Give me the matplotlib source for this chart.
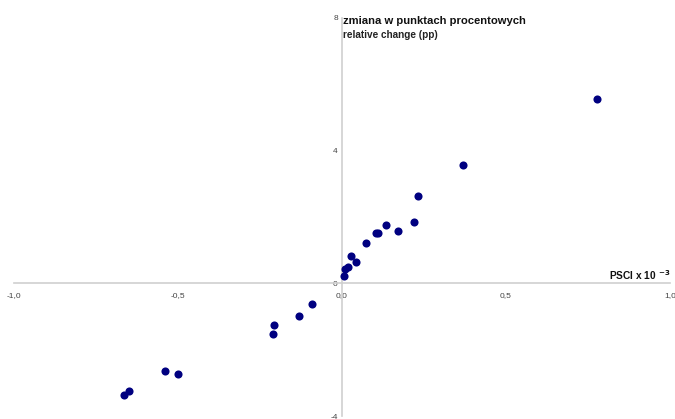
import matplotlib
matplotlib.use("Agg")
import matplotlib.pyplot as plt

plt.rcParams['font.family'] = ['Liberation Sans', 'DejaVu Sans']

# Data
psci = [-0.664, -0.649, -0.541, -0.499, -0.211, -0.207, -0.130, -0.092,
        0.006, 0.009, 0.017, 0.026, 0.043, 0.073, 0.104, 0.111, 0.133,
        0.172, 0.218, 0.233, 0.368, 0.776]
change = [-3.37, -3.25, -2.63, -2.74, -1.52, -1.25, -0.98, -0.62,
          0.21, 0.43, 0.48, 0.81, 0.65, 1.23, 1.53, 1.53, 1.76,
          1.57, 1.85, 2.63, 3.58, 5.56]
x_ticks = [-1.0, -0.5, 0.0, 0.5, 1.0]
x_tick_labels = ["-1,0", "-0,5", "0,0", "0,5", "1,0"]
y_ticks = [-4, 0, 4, 8]
y_tick_labels = ["-4", "0", "4", "8"]

fig = plt.figure(figsize=(6.75, 4.19), dpi=100)
ax = fig.add_axes([14/675, 3/419, 656/675, 398/419])
ax.scatter(psci, change, s=34, color="#000080", zorder=3, linewidths=0)
ax.set_xlim(-1.0, 1.0)
ax.set_ylim(-4, 8)

for side in ["top", "right"]:
    ax.spines[side].set_visible(False)
for side in ["left", "bottom"]:
    ax.spines[side].set_position(("data", 0))
    ax.spines[side].set_color("#cfcfcf")
    ax.spines[side].set_linewidth(1.2)

ax.set_xticks(x_ticks)
ax.set_xticklabels(x_tick_labels)
ax.set_yticks(y_ticks)
ax.set_yticklabels(y_tick_labels)
ax.tick_params(axis="both", length=0, labelsize=6, colors="#444444", pad=6)
ax.tick_params(axis="y", pad=3)

ax.text(0.003, 7.9, "zmiana w punktach procentowych", fontsize=8.1,
        fontweight="bold", va="center", ha="left", color="#111111")
ax.text(0.003, 7.5, "relative change (pp)", fontsize=7.2,
        fontweight="bold", va="center", ha="left", color="#222222")
ax.text(1.0, 0.26, r"PSCI x 10 $^{\mathbf{-3}}$", fontsize=7.3,
        fontweight="bold", va="center", ha="right", color="#111111")

fig.savefig("out.png", dpi=100)
